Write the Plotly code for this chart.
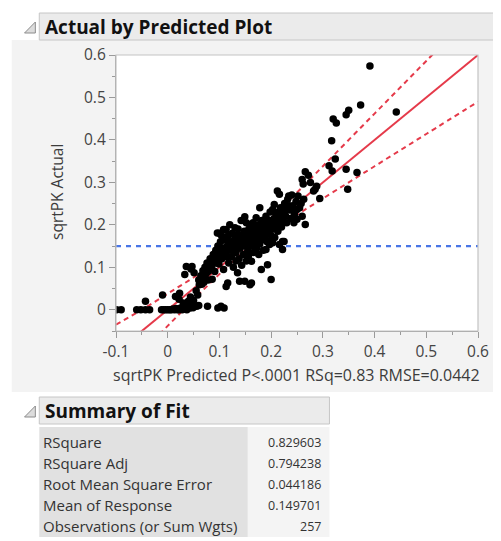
import plotly.graph_objects as go

# ---------------- data ----------------
pred_zero = [-0.099, -0.090, -0.060, -0.052, -0.043, -0.035, -0.012, -0.008, -0.004, 0.000, 0.004, 0.007,
             0.010, 0.013, 0.016, 0.019, 0.022, 0.025, 0.028, 0.031, 0.034, 0.037, 0.040, 0.043, 0.046,
             0.049, 0.052, 0.056, 0.060, 0.077, 0.097, 0.103, 0.109]
actual_zero = [0, 0, 0, 0, 0, 0, 0, 0, 0, 0, 0, 0,
               0.002, 0, 0.003, 0, 0, 0.004, 0, 0.006, 0.002, 0, 0.008, 0.004, 0.010,
               0.005, 0.012, 0.008, 0.010, 0.008, 0.004, 0.008, 0.004]

pred_low = [-0.043, -0.010, 0.015, 0.022, 0.023, 0.030, 0.040, 0.050, 0.055, 0.061, 0.044, 0.058]
actual_low = [0.020, 0.035, 0.031, 0.025, 0.039, 0.016, 0.020, 0.022, 0.045, 0.059, 0.030, 0.035]

pred_band1 = [0.033, 0.036, 0.045, 0.047, 0.051, 0.060, 0.064, 0.066, 0.068, 0.070, 0.072, 0.074, 0.076, 0.078,
              0.080, 0.082, 0.084, 0.086, 0.088, 0.090, 0.091, 0.093, 0.094, 0.096, 0.097, 0.099, 0.100, 0.100]
actual_band1 = [0.083, 0.102, 0.096, 0.102, 0.087, 0.070, 0.080, 0.060, 0.092, 0.075, 0.100, 0.085, 0.110, 0.070,
                0.095, 0.120, 0.105, 0.072, 0.130, 0.115, 0.090, 0.140, 0.125, 0.181, 0.150, 0.108, 0.180, 0.135]

pred_band2 = [0.102, 0.104, 0.105, 0.107, 0.108, 0.110, 0.112, 0.113, 0.115, 0.116, 0.117, 0.118, 0.120, 0.120,
              0.122, 0.124, 0.125, 0.127, 0.128, 0.130, 0.130, 0.132, 0.132, 0.134, 0.135, 0.136, 0.138, 0.139,
              0.140, 0.140, 0.142, 0.143, 0.145, 0.146, 0.148, 0.149, 0.149, 0.108, 0.113, 0.125]
actual_band2 = [0.160, 0.175, 0.120, 0.145, 0.189, 0.165, 0.130, 0.055, 0.150, 0.063, 0.175, 0.110, 0.140, 0.200,
                0.160, 0.125, 0.180, 0.100, 0.150, 0.170, 0.193, 0.135, 0.115, 0.160, 0.087, 0.190, 0.120, 0.067,
                0.145, 0.175, 0.210, 0.105, 0.160, 0.130, 0.185, 0.067, 0.219, 0.095, 0.189, 0.140]

pred_band3 = [0.150, 0.152, 0.152, 0.154, 0.155, 0.156, 0.157, 0.158, 0.159, 0.160, 0.162, 0.162, 0.162, 0.163,
              0.164, 0.165, 0.166, 0.168, 0.170, 0.171, 0.172, 0.174, 0.175, 0.176, 0.178, 0.178, 0.180, 0.181,
              0.182, 0.183, 0.185, 0.186, 0.188, 0.190, 0.190, 0.192, 0.193, 0.194, 0.195, 0.196, 0.197, 0.198]
actual_band3 = [0.150, 0.205, 0.115, 0.170, 0.140, 0.126, 0.190, 0.160, 0.059, 0.200, 0.114, 0.063, 0.189, 0.150,
                0.175, 0.205, 0.135, 0.160, 0.190, 0.217, 0.145, 0.170, 0.200, 0.130, 0.240, 0.155, 0.185, 0.095,
                0.210, 0.165, 0.140, 0.195, 0.175, 0.142, 0.220, 0.160, 0.106, 0.200, 0.185, 0.161, 0.154, 0.230]

pred_band4 = [0.200, 0.200, 0.201, 0.203, 0.203, 0.205, 0.206, 0.207, 0.209, 0.210, 0.212, 0.213, 0.215, 0.216,
              0.216, 0.218, 0.220, 0.222, 0.222, 0.224, 0.225, 0.226, 0.228, 0.230, 0.232, 0.234, 0.236, 0.238,
              0.240, 0.242, 0.245, 0.248, 0.250, 0.250, 0.252, 0.255, 0.258, 0.260, 0.263, 0.266, 0.244]
actual_band4 = [0.071, 0.175, 0.210, 0.158, 0.236, 0.190, 0.248, 0.170, 0.229, 0.200, 0.280, 0.185, 0.215, 0.272,
                0.154, 0.240, 0.195, 0.161, 0.142, 0.225, 0.161, 0.250, 0.221, 0.205, 0.260, 0.268, 0.235, 0.215,
                0.270, 0.245, 0.225, 0.255, 0.213, 0.236, 0.268, 0.240, 0.250, 0.220, 0.260, 0.201, 0.205]

pred_high = [0.266, 0.272, 0.260, 0.262, 0.276, 0.288, 0.285, 0.282, 0.294, 0.348, 0.317, 0.324, 0.312, 0.318,
             0.345, 0.366, 0.320, 0.326, 0.345, 0.350, 0.373, 0.391, 0.442]
actual_high = [0.325, 0.317, 0.307, 0.296, 0.300, 0.291, 0.284, 0.280, 0.262, 0.284, 0.398, 0.355, 0.339, 0.327,
               0.331, 0.323, 0.449, 0.440, 0.459, 0.470, 0.482, 0.574, 0.466]

pred_core = [0.070, 0.078, 0.085, 0.092, 0.098, 0.105, 0.110, 0.115, 0.118, 0.122, 0.126, 0.130, 0.134, 0.138,
             0.142, 0.146, 0.150, 0.154, 0.158, 0.162, 0.166, 0.170, 0.174, 0.178, 0.182, 0.186, 0.190, 0.194,
             0.198, 0.202, 0.206, 0.210, 0.214, 0.218, 0.222, 0.228, 0.235, 0.244]
actual_core = [0.065, 0.090, 0.100, 0.110, 0.120, 0.135, 0.145, 0.125, 0.155, 0.145, 0.160, 0.150, 0.175, 0.165,
               0.155, 0.170, 0.180, 0.160, 0.175, 0.170, 0.185, 0.180, 0.190, 0.175, 0.195, 0.185, 0.205, 0.190,
               0.210, 0.200, 0.215, 0.225, 0.205, 0.230, 0.210, 0.235, 0.245, 0.232]

# fit line (actual = predicted) and confidence curves
fit_x = [-0.1, 0.6]
fit_y = [-0.1, 0.6]
conf_x = [-0.1, -0.05, 0.0, 0.05, 0.1, 0.15, 0.2, 0.25, 0.3, 0.4, 0.5, 0.6]
conf_upper = [-0.035, 0.0, 0.038, 0.076, 0.116, 0.160, 0.216, 0.276, 0.338, 0.462, 0.586, 0.710]
conf_lower = [-0.165, -0.100, -0.038, 0.024, 0.084, 0.140, 0.184, 0.224, 0.262, 0.338, 0.414, 0.490]
mean_response = 0.149701

x_tick_vals = [-0.1, 0.0, 0.1, 0.2, 0.3, 0.4, 0.5, 0.6]
x_tick_text = ["-0.1", "0", "0.1", "0.2", "0.3", "0.4", "0.5", "0.6"]
y_tick_vals = [0.0, 0.1, 0.2, 0.3, 0.4, 0.5, 0.6]
y_tick_text = ["0", "0.1", "0.2", "0.3", "0.4", "0.5", "0.6"]

fit_labels = ["RSquare", "RSquare Adj", "Root Mean Square Error", "Mean of Response", "Observations (or Sum Wgts)"]
fit_values = ["0.829603", "0.794238", "0.044186", "0.149701", "257"]

# ---------------- figure ----------------
pred = pred_zero + pred_low + pred_band1 + pred_band2 + pred_band3 + pred_band4 + pred_high + pred_core
actual = actual_zero + actual_low + actual_band1 + actual_band2 + actual_band3 + actual_band4 + actual_high + actual_core

OFF = 8                      # browser body margin
W_FIG, H_FIG = 501 - OFF, 541 - OFF
# plot area in page pixels
PL, PR, PT, PB = 116, 484, 55, 331
L, T = PL - OFF, PT - OFF
R = W_FIG - (PR - OFF)
B = H_FIG - (PB - OFF)
PW = PR - PL
PH = PB - PT


def px(x):
    return (x - PL) / PW


def py(y):
    return (PB - y) / PH


RED = "#e53a4a"
BLUE = "#4a76e6"
FONT = "Open Sans"

fig = go.Figure()
fig.add_trace(go.Scatter(x=[-0.1, 0.6], y=[mean_response, mean_response], mode="lines",
                         line=dict(color=BLUE, width=2.2, dash="5px,5px"), hoverinfo="skip"))
fig.add_trace(go.Scatter(x=conf_x, y=conf_upper, mode="lines", line=dict(color=RED, width=2, dash="5px,4px", shape="spline"),
                         hoverinfo="skip"))
fig.add_trace(go.Scatter(x=conf_x, y=conf_lower, mode="lines", line=dict(color=RED, width=2, dash="5px,4px", shape="spline"),
                         hoverinfo="skip"))
fig.add_trace(go.Scatter(x=fit_x, y=fit_y, mode="lines", line=dict(color=RED, width=2), hoverinfo="skip"))
fig.add_trace(go.Scatter(x=pred, y=actual, mode="markers",
                         marker=dict(color="black", size=7.5, line=dict(width=0))))

shapes = []
GRAY_BG = "#f3f3f3"
# light gray panel around plot (4 pieces, avoiding plot area)
for (x0, y0, x1, y1) in [(10, 40, PL, 392), (PR, 40, 505, 392), (PL, 40, PR, PT), (PL, PB, PR, 392)]:
    shapes.append(dict(type="rect", xref="paper", yref="paper", x0=px(x0), x1=px(x1), y0=py(y1), y1=py(y0),
                       fillcolor=GRAY_BG, line=dict(width=0), layer="below"))
# plot frame
shapes.append(dict(type="rect", xref="paper", yref="paper", x0=0, x1=1, y0=0, y1=1,
                   line=dict(color="#c4c4c4", width=1.2), fillcolor="rgba(0,0,0,0)", layer="above"))
# title bars
for (x0, y0, x1, y1) in [(38, 13, 506, 40), (38, 397, 333, 424)]:
    shapes.append(dict(type="rect", xref="paper", yref="paper", x0=px(x0), x1=px(x1), y0=py(y1), y1=py(y0),
                       fillcolor="#ebebeb", line=dict(color="#c6c6c6", width=1)))
# table backgrounds
shapes.append(dict(type="rect", xref="paper", yref="paper", x0=px(38), x1=px(250), y0=py(537), y1=py(427),
                   fillcolor="#e1e1e1", line=dict(width=0)))
shapes.append(dict(type="rect", xref="paper", yref="paper", x0=px(250), x1=px(333), y0=py(537), y1=py(427),
                   fillcolor="#f4f4f4", line=dict(width=0)))
# disclosure triangles
for cy in [27, 411]:
    pts = [(23, cy + 6), (34, cy + 6), (34, cy - 5)]
    path = "M {} {} L {} {} L {} {} Z".format(*[v for p in pts for v in (px(p[0]), py(p[1]))])
    shapes.append(dict(type="path", xref="paper", yref="paper", path=path,
                       fillcolor="#dcdcdc", line=dict(color="#8c8c8c", width=1)))

annotations = [
    dict(text="<b>Actual by Predicted Plot</b>", x=px(42), y=py(27), xref="paper", yref="paper",
         xanchor="left", yanchor="middle", showarrow=False, font=dict(family=FONT, size=19, color="#111")),
    dict(text="<b>Summary of Fit</b>", x=px(42), y=py(411), xref="paper", yref="paper",
         xanchor="left", yanchor="middle", showarrow=False, font=dict(family=FONT, size=19, color="#111")),
    dict(text="sqrtPK Predicted P<.0001 RSq=0.83 RMSE=0.0442", x=px(299), y=py(375), xref="paper", yref="paper",
         xanchor="center", yanchor="middle", showarrow=False, font=dict(family=FONT, size=16, color="#3c3c3c")),
    dict(text="sqrtPK Actual", x=px(56), y=py(192), xref="paper", yref="paper", textangle=-90,
         xanchor="center", yanchor="middle", showarrow=False, font=dict(family=FONT, size=15.5, color="#3c3c3c")),
]
row_y = [442, 463, 484, 505, 526]
for lab, val, yy in zip(fit_labels, fit_values, row_y):
    annotations.append(dict(text=lab, x=px(40), y=py(yy), xref="paper", yref="paper", xanchor="left",
                            yanchor="middle", showarrow=False, font=dict(family=FONT, size=15, color="#333")))
    annotations.append(dict(text=val, x=px(326), y=py(yy), xref="paper", yref="paper", xanchor="right",
                            yanchor="middle", showarrow=False, font=dict(family=FONT, size=12.5, color="#333")))

axis_common = dict(showgrid=False, zeroline=False, showline=True, linecolor="#9a9a9a", linewidth=1.2,
                   ticks="outside", ticklen=6, tickcolor="#9a9a9a", tickwidth=1,
                   tickfont=dict(family=FONT, size=15.5, color="#444"),
                   minor=dict(ticks="outside", ticklen=3, tickcolor="#9a9a9a", dtick=0.05, showgrid=False))

fig.update_layout(
    width=W_FIG, height=H_FIG,
    margin=dict(l=L, r=R, t=T, b=B),
    paper_bgcolor="white", plot_bgcolor="white",
    showlegend=False,
    shapes=shapes, annotations=annotations,
    xaxis=dict(range=[-0.1, 0.6], tickvals=x_tick_vals, ticktext=x_tick_text, **axis_common),
    yaxis=dict(range=[-0.05, 0.6], tickvals=y_tick_vals, ticktext=y_tick_text, **axis_common),
)
fig.update_xaxes(minor=dict(tick0=-0.1))
fig.update_yaxes(minor=dict(tick0=0.0))

fig.write_html("out.html")
